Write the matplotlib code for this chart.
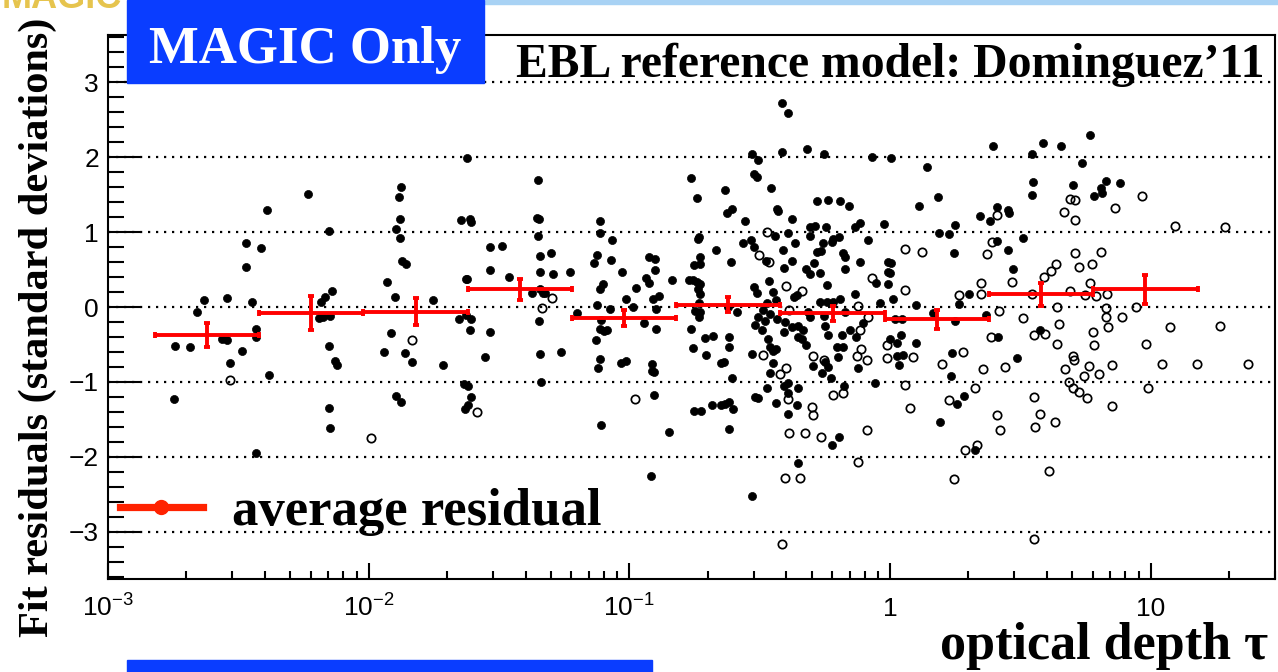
import matplotlib.pyplot as plt
import numpy as np
from matplotlib.font_manager import FontProperties
from matplotlib.lines import Line2D
from matplotlib.patches import Rectangle
from matplotlib.ticker import (FixedLocator, FuncFormatter, LogLocator,
                               MultipleLocator, NullFormatter)

plt.rcParams['font.family'] = 'Liberation Sans'
plt.rcParams['mathtext.fontset'] = 'custom'
plt.rcParams['mathtext.rm'] = 'Liberation Sans'
plt.rcParams['mathtext.it'] = 'Liberation Sans:italic'
plt.rcParams['mathtext.bf'] = 'Liberation Sans:bold'

SERIF = 'Liberation Serif'
MAGIC_BLUE = '#0a3dff'

# Residuals of sources with significant flux (filled markers), log10(tau)
log_tau_filled = [
    -2.742, -2.686, -2.748, -2.658, -2.632, -2.545, -2.561, -2.544, -2.531, -2.487,
    -2.472, -2.469, -2.449, -2.433, -2.432, -2.413, -2.390, -2.384, -2.433, -2.234,
    -2.184, -2.169, -2.141, -2.190, -2.177, -2.148, -2.153, -2.153, -2.131, -2.120,
    -2.152, -2.147, -1.876, -1.884, -1.879, -1.894, -1.880, -1.874, -1.858, -1.928,
    -1.898, -1.916, -1.943, -1.862, -1.835, -1.755, -1.713, -1.895, -1.877, -1.646,
    -1.610, -1.608, -1.627, -1.622, -1.652, -1.626, -1.607, -1.613, -1.533, -1.535,
    -1.534, -1.554, -1.636, -1.620, -1.609, -1.630, -1.617, -1.621, -1.487, -1.460,
    -1.351, -1.356, -1.345, -1.350, -1.344, -1.299, -1.342, -1.292, -1.229, -1.372,
    -1.344, -1.333, -1.323, -1.346, -1.341, -1.263, -1.340, -1.202, -1.111, -1.111,
    -1.068, -1.123, -1.134, -1.071, -1.028, -1.102, -1.111, -1.124, -1.075, -1.108,
    -1.112, -1.097, -1.085, -1.126, -1.111, -1.121, -1.032, -1.011, -1.014, -0.984,
    -0.973, -0.936, -0.926, -0.925, -0.903, -0.902, -0.909, -0.888, -0.899, -0.943,
    -0.898, -0.914, -0.907, -0.913, -0.904, -1.108, -0.846, -0.835, -0.916, -0.764,
    -0.739, -0.737, -0.732, -0.728, -0.750, -0.727, -0.770, -0.756, -0.741, -0.728,
    -0.736, -0.728, -0.731, -0.748, -0.728, -0.733, -0.765, -0.754, -0.705, -0.709,
    -0.679, -0.750, -0.726, -0.682, -0.649, -0.632, -0.617, -0.604, -0.618, -0.667,
    -0.633, -0.607, -0.626, -0.610, -0.620, -0.587, -0.618, -0.618, -0.650, -0.636,
    -0.607, -0.556, -0.562, -0.535, -0.521, -0.530, -0.506, -0.520, -0.511, -0.456,
    -0.475, -0.528, -0.468, -0.462, -0.447, -0.437, -0.447, -0.470, -0.460, -0.517,
    -0.505, -0.439, -0.414, -0.390, -0.414, -0.320, -0.255, -0.069, 0.003, -0.434,
    -0.428, -0.375, -0.281, -0.239, -0.192, -0.156, -0.390, -0.441, -0.307, -0.287,
    -0.245, -0.134, -0.115, -0.022, -0.307, -0.364, -0.409, -0.223, -0.217, -0.195,
    -0.258, -0.083, -0.279, -0.264, -0.179, -0.172, -0.376, -0.406, -0.290, -0.115,
    -0.009, 0.004, -0.322, -0.307, -0.268, -0.172, -0.054, -0.007, 0.000, -0.370,
    -0.357, -0.243, -0.134, -0.007, -0.268, -0.243, -0.217, -0.192, -0.038, -0.313,
    -0.307, -0.172, -0.255, -0.402, -0.376, -0.351, -0.405, -0.332, -0.351, -0.338,
    -0.322, -0.249, -0.153, -0.185, -0.130, -0.102, 0.000, 0.026, 0.026, -0.239,
    -0.204, -0.179, -0.121, -0.294, -0.262, -0.249, -0.236, -0.227, -0.200, -0.406,
    -0.393, -0.393, -0.351, -0.355, -0.392, -0.175, -0.057, -0.223, -0.194, -0.529,
    -0.352, -0.521, -0.510, -0.464, -0.448, -0.437, -0.471, -0.487, -0.460, -0.506,
    -0.479, -0.433, -0.517, -0.490, 0.142, 0.111, 0.185, 0.188, 0.225, 0.250,
    0.245, 0.010, 0.100, 0.019, 0.045, 0.166, 0.263, 0.302, 0.248, 0.370,
    0.041, 0.049, 0.036, 0.100, 0.239, 0.233, 0.256, 0.285, 0.192, 0.326,
    0.396, 0.344, 0.383, 0.409, 0.451, 0.455, 0.411, 0.452, 0.510, 0.471,
    0.415, 0.489, 0.545, 0.587, 0.658, 0.767, 0.738, 0.548, 0.543, 0.704,
    0.783, 0.811, 0.812, 0.830, 0.882, 0.575,
]
resid_filled = [
    -0.516, -0.537, -1.231, -0.063, 0.093, 0.116, -0.431, -0.440, -0.743, -0.591,
    0.857, 0.533, 0.063, -0.293, -0.396, 0.783, 1.297, -0.911, -1.947, 1.507,
    0.071, 0.129, 0.217, -0.147, -0.137, -0.116, 1.009, -0.520, -0.720, -0.769,
    -1.351, -1.617, 1.604, 1.471, 1.169, 1.040, 0.920, 0.617, 0.569, 0.337,
    0.137, -0.351, -0.604, -0.609, -0.733, 0.093, -0.773, -1.183, -1.263, 1.164,
    1.169, 1.137, 0.369, 0.369, -0.160, -0.103, -0.164, -0.307, 0.804, 0.489,
    -0.337, -0.667, -1.031, -1.053, -1.200, -1.356, -1.307, 1.987, 0.807, 0.404,
    1.697, 1.183, 1.169, 0.947, 0.684, 0.720, 0.467, 0.444, 0.467, 0.183,
    0.240, 0.183, 0.183, -0.183, -0.631, -0.604, -1.004, -0.084, 1.151, 0.983,
    0.893, 0.689, 0.583, 0.623, 0.471, 0.303, 0.236, 0.027, -0.031, -0.173,
    -0.297, -0.316, -0.307, -0.440, -0.697, -0.817, -0.743, -0.716, 0.103, -0.004,
    0.257, 0.383, 0.324, 0.667, 0.636, 0.497, 0.107, 0.147, -0.031, -0.217,
    -0.297, -0.764, -0.863, -0.849, -1.173, -1.573, -1.663, 0.356, -2.253, 1.724,
    1.453, 0.903, 0.929, 0.671, 0.556, 0.569, 0.360, 0.360, 0.329, 0.303,
    0.236, 0.169, 0.057, -0.049, -0.067, -0.129, -0.289, -0.543, -0.640, -0.409,
    -0.387, -1.387, -1.387, -1.307, -1.311, -1.293, -1.263, -1.360, -1.631, 0.760,
    1.560, 1.303, 1.257, 0.600, 0.004, -0.063, -0.404, -0.537, -0.743, -0.729,
    -0.943, 1.147, 0.857, 0.889, 0.804, 2.040, 1.960, 1.773, 1.729, 1.591,
    0.613, -0.627, -0.431, -0.537, -0.583, -0.564, -0.751, -1.076, -0.884, -1.196,
    -1.209, -1.284, 2.720, 2.583, 2.063, 2.103, 2.040, 2.004, 1.983, 1.303,
    1.280, 1.173, 1.413, 1.427, 1.417, 1.347, 0.991, 0.947, 1.071, 1.084,
    1.071, 1.071, 1.124, 1.103, 0.951, 0.849, 0.760, 0.871, 0.907, 0.937,
    0.857, 0.889, 0.729, 0.747, 0.716, 0.671, 0.609, 0.524, 0.591, 0.596,
    0.596, 0.583, 0.503, 0.440, 0.449, 0.507, 0.316, 0.471, 0.449, 0.137,
    0.160, 0.293, 0.173, 0.307, 0.071, 0.071, 0.071, 0.103, 0.049, -0.063,
    -0.129, -0.063, -0.120, -0.196, -0.263, -0.253, -0.329, -0.307, -0.396, -0.431,
    -0.507, -0.253, -0.307, -0.373, -0.396, -0.217, -0.431, -0.484, -0.653, -0.373,
    -0.537, -0.537, -0.809, -0.787, -0.876, -0.729, -0.796, -0.951, -0.663, -1.053,
    -1.009, -1.151, -1.084, -1.303, -1.431, -1.053, -1.009, -1.840, -1.729, -2.520,
    -2.080, 0.267, 0.187, 0.347, 0.200, 0.093, 0.053, -0.040, -0.093, -0.133,
    -0.187, -0.160, -0.240, -0.307, 1.867, 1.343, 1.467, 0.983, 0.977, 1.093,
    0.716, 0.103, 0.031, -0.160, -0.164, -0.084, 0.040, 0.169, -0.183, -0.107,
    -0.369, -0.644, -0.777, -0.476, -0.609, -0.920, -1.293, -1.187, -1.533, -1.907,
    2.151, 1.213, 1.147, 1.329, 1.293, 1.249, 0.880, 0.760, 0.924, 0.511,
    -0.400, -0.676, 2.036, 2.191, 2.151, 2.293, 1.916, 1.667, 1.493, 1.627,
    1.484, 1.583, 1.524, 1.676, 1.657, -0.311,
]

# Residuals drawn with open markers, log10(tau)
log_tau_open = [
    -2.533, -1.992, -1.834, -1.585, -1.336, -1.295, -0.977, -0.472, -0.501, -0.466,
    -0.489, -0.070, -0.398, -0.336, -0.386, -0.122, -0.083, -0.115, -0.013, -0.013,
    -0.294, -0.128, -0.111, -0.089, -0.255, -0.398, -0.421, -0.392, -0.300, -0.294,
    -0.220, -0.179, -0.386, -0.326, -0.264, -0.089, -0.414, -0.402, -0.345, -0.123,
    0.057, 0.123, 0.057, 0.266, 0.348, 0.348, 0.087, 0.057, 0.077, 0.198,
    0.279, 0.227, 0.325, 0.355, 0.286, 0.335, 0.244, 0.411, 0.391, 0.374,
    0.470, 0.418, 0.386, 0.512, 0.443, 0.409, 0.421, 0.691, 0.711, 0.669,
    0.710, 0.865, 0.968, 1.093, 0.709, 0.727, 0.774, 0.810, 0.637, 0.617,
    0.590, 0.543, 0.692, 0.747, 0.766, 0.792, 0.831, 0.640, 0.828, 0.828,
    0.838, 0.890, 0.944, 0.648, 0.551, 0.593, 0.779, 0.640, 0.782, 0.702,
    0.705, 0.673, 0.764, 0.746, 0.800, 0.850, 0.687, 0.703, 0.724, 0.756,
    0.554, 0.577, 0.557, 0.632, 0.852, 0.984, 0.989, 1.045, 1.076, 1.179,
    0.609, 0.554, 1.284, 1.268, 1.372,
]
resid_open = [
    -0.977, -1.747, -0.444, -1.400, -0.017, 0.124, -1.227, 0.996, 0.693, 0.600,
    -0.644, 0.383, 0.280, 0.209, -0.040, 0.017, -0.129, -0.307, -0.507, -0.684,
    -0.653, -0.653, -0.560, -0.707, -0.707, -0.817, -0.897, -1.231, -1.329, -1.440,
    -1.173, -1.151, -1.676, -1.676, -1.737, -1.640, -3.160, -2.280, -2.280, -2.067,
    0.769, 0.729, 0.227, 0.160, 0.324, 0.169, -0.671, -1.036, -1.343, -0.764,
    -0.600, -1.240, -1.080, -0.831, -1.911, -1.840, -2.289, 1.223, 0.863, 0.703,
    0.337, -0.049, -0.400, -0.147, -0.800, -1.444, -1.644, 1.436, 1.427, 1.267,
    1.160, 1.320, 1.476, 1.080, 0.720, 0.533, 0.573, 0.737, 0.577, 0.480,
    0.404, 0.169, 0.209, 0.156, 0.324, 0.147, 0.169, 0.000, -0.009, -0.137,
    -0.267, -0.129, 0.000, -0.231, -0.373, -0.360, -0.329, -0.493, -0.511, -0.649,
    -0.707, -0.823, -0.791, -0.924, -0.893, -0.769, -0.996, -1.084, -1.133, -1.213,
    -1.200, -1.431, -1.604, -1.529, -1.320, -0.493, -1.076, -0.764, -0.267, -0.764,
    -2.187, -3.093, 1.067, -0.253, -0.760,
]

# Average residual in bins of 0.4 decades of optical depth
bin_edges_log = [-2.82, -2.42, -2.02, -1.62, -1.22, -0.82, -0.42, -0.02, 0.38, 0.78, 1.18]
bin_mean = [-0.380, -0.085, -0.062, 0.240, -0.150, 0.027, -0.085, -0.165, 0.169, 0.235]
bin_err = [0.160, 0.227, 0.180, 0.140, 0.110, 0.100, 0.100, 0.127, 0.155, 0.198]

x_ticks = [1e-3, 1e-2, 1e-1, 1, 10]


def tau_label(value, pos):
    exponent = int(round(np.log10(value)))
    if exponent >= 0:
        return str(int(round(value)))
    return r'$\mathregular{10^{%d}}$' % exponent


fig = plt.figure(figsize=(12.78, 6.72), dpi=100)
ax = fig.add_axes([108 / 1278, 93 / 672, 1167 / 1278, 544 / 672])

tau_filled = 10 ** np.array(log_tau_filled)
tau_open = 10 ** np.array(log_tau_open)
ax.plot(tau_filled, resid_filled, 'o', color='k', ms=5.8, mew=0.5, zorder=3)
ax.plot(tau_open, resid_open, 'o', mfc='none', mec='k', ms=6.0, mew=1.25, zorder=3)

edges = 10 ** np.array(bin_edges_log)
centers = 10 ** (0.5 * (np.array(bin_edges_log[:-1]) + np.array(bin_edges_log[1:])))
ax.errorbar(centers, bin_mean, xerr=[centers - edges[:-1], edges[1:] - centers],
            yerr=bin_err, fmt='none', ecolor='#ff0000', elinewidth=2.8,
            capsize=2, capthick=2.8, zorder=4)

ax.set_xscale('log')
ax.set_xlim(1e-3, 30)
ax.set_ylim(-3.627, 3.627)

ax.xaxis.set_major_locator(FixedLocator(x_ticks))
ax.xaxis.set_major_formatter(FuncFormatter(tau_label))
ax.xaxis.set_minor_locator(LogLocator(base=10, subs=np.arange(2, 10), numticks=30))
ax.xaxis.set_minor_formatter(NullFormatter())
ax.yaxis.set_major_locator(MultipleLocator(1))
ax.yaxis.set_minor_locator(MultipleLocator(0.2))

ax.tick_params(axis='both', which='both', direction='in', top=False, right=False,
               width=1.5, labelsize=19)
ax.tick_params(axis='y', which='major', length=23, pad=6.5)
ax.tick_params(axis='y', which='minor', length=11.5)
ax.tick_params(axis='x', which='major', length=11.5, pad=27)
ax.tick_params(axis='x', which='minor', length=5.8)
for lab in ax.get_xticklabels():
    lab.set_verticalalignment('baseline')

for spine in ax.spines.values():
    spine.set_linewidth(1.5)

ax.yaxis.grid(True, which='major', color='k', linestyle=(0, (1, 2.6)), linewidth=1.6)
ax.set_axisbelow(True)

# Legend
handle = Line2D([], [], color='#ff2200', lw=5.2, marker='o', ms=10)
ax.legend([handle], ['average residual'], loc='center left',
          bbox_to_anchor=((120 - 108) / 1167, (579 - 512) / 544),
          frameon=False, borderpad=0, borderaxespad=0, handlelength=1.57,
          handletextpad=0.55,
          prop=FontProperties(family=SERIF, weight='bold', size=38))

# Axis titles
fig.text(38 / 1278, 1 - 327 / 672, 'Fit residuals (standard deviations)',
         rotation=90, ha='center', va='center', family=SERIF, weight='bold', fontsize=30.5)
fig.text(1268 / 1278, 1 - 659 / 672, 'optical depth τ', ha='right', va='baseline',
         family=SERIF, weight='bold', fontsize=37.5)
fig.text(1265 / 1278, 1 - 77 / 672, 'EBL reference model: Dominguez’11',
         ha='right', va='baseline', family=SERIF, weight='bold', fontsize=34.3)

# Slide decorations: header strip, logo and blue labels
fig.add_artist(Rectangle((484 / 1278, 1 - 4 / 672), 794 / 1278, 4 / 672,
                         transform=fig.transFigure, color='#a8d2f4', zorder=5))
fig.text(2 / 1278, 1 - 8 / 672, 'MAGIC', ha='left', va='baseline', color='#e6c44e',
         weight='bold', fontsize=26, zorder=5)
fig.add_artist(Rectangle((127 / 1278, 1 - 83 / 672), 357 / 1278, 83 / 672,
                         transform=fig.transFigure, color=MAGIC_BLUE, zorder=6))
fig.text(305.5 / 1278, 1 - 63 / 672, 'MAGIC Only', ha='center', va='baseline',
         color='white', family=SERIF, weight='bold', fontsize=38, zorder=7)
fig.add_artist(Rectangle((127 / 1278, 0), 525 / 1278, 12 / 672,
                         transform=fig.transFigure, color=MAGIC_BLUE, zorder=6))

fig.savefig('out.png', dpi=100)
